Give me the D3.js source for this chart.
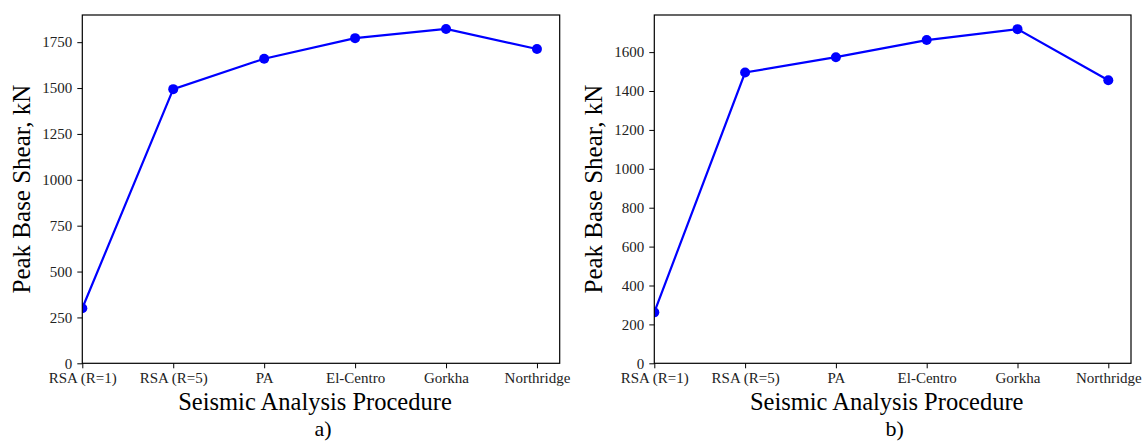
<!DOCTYPE html>
<html>
<head>
<meta charset="utf-8">
<script src="https://cdn.jsdelivr.net/npm/d3@7"></script>
<style>
  body { margin: 0; background: #fff; }
  svg text { font-family: "Liberation Serif", "DejaVu Serif", serif !important; }
</style>
</head>
<body>
<div class="chart"></div>
<script>
const categories = ["RSA (R=1)", "RSA (R=5)", "PA", "El-Centro", "Gorkha", "Northridge"]
const shearA = [300, 1494, 1660, 1772, 1822, 1713]
const shearB = [262, 1495, 1574, 1662, 1718, 1455]
const ticksA = [0, 250, 500, 750, 1000, 1250, 1500, 1750]
const ticksB = [0, 200, 400, 600, 800, 1000, 1200, 1400, 1600]

let width = 1142, height = 442
let svg = d3.select(".chart")
  .append("svg")
  .attr("width", width)
  .attr("height", height)

// one panel per sub-figure
function panel(left, right, values, ticks, caption, id) {
  let top = 15, bottom = 363.3
  let lo = d3.min(values), hi = d3.max(values)
  let x = d3.scaleLinear().domain([0, categories.length - 1 + 0.25]).range([left, right])
  let y = d3.scaleLinear().domain([0, hi + 0.05 * (hi - lo)]).range([bottom, top])

  let g = svg.append("g")

  g.append("clipPath").attr("id", id)
    .append("rect")
    .attr("x", left).attr("y", top)
    .attr("width", right - left).attr("height", bottom - top)

  let line = d3.line()
    .x((d, i) => x(i))
    .y((d) => y(d))

  let plot = g.append("g").attr("clip-path", `url(#${id})`)
  plot.append("path")
    .datum(values)
    .attr("d", line)
    .attr("fill", "none")
    .attr("stroke", "#0000ff")
    .attr("stroke-width", 2.2)
  plot.selectAll("circle")
    .data(values)
    .enter()
    .append("circle")
    .attr("cx", (d, i) => x(i))
    .attr("cy", (d) => y(d))
    .attr("r", 5)
    .attr("fill", "#0000ff")

  // axes
  let xAxis = d3.axisBottom(x)
    .tickValues(d3.range(categories.length))
    .tickFormat((i) => categories[i])
    .tickSizeInner(5).tickSizeOuter(0).tickPadding(4)
  let gx = g.append("g")
    .attr("transform", `translate(0,${bottom})`)
    .call(xAxis)
  let yAxis = d3.axisLeft(y)
    .tickValues(ticks)
    .tickFormat(d3.format("d"))
    .tickSizeInner(5).tickSizeOuter(0).tickPadding(5)
  let gy = g.append("g")
    .attr("transform", `translate(${left},0)`)
    .call(yAxis)
  ;[gx, gy].forEach((a) => {
    a.attr("font-family", null).attr("font-size", null)
    a.select(".domain").remove()
    a.selectAll("line").attr("stroke", "#000").attr("stroke-width", 1)
    a.selectAll("text")
      .style("font-size", "15px")
      .attr("fill", "#222")
  })

  // frame
  g.append("rect")
    .attr("x", left).attr("y", top)
    .attr("width", right - left).attr("height", bottom - top)
    .attr("fill", "none")
    .attr("stroke", "#000")
    .attr("stroke-width", 1.2)

  let mid = (left + right) / 2
  g.append("text")
    .attr("x", mid - 6).attr("y", 410)
    .attr("text-anchor", "middle")
    .style("font-size", "24.5px")
    .text("Seismic Analysis Procedure")
  g.append("text")
    .attr("x", mid + 2).attr("y", 436)
    .attr("text-anchor", "middle")
    .style("font-size", "22px")
    .text(caption)
  g.append("text")
    .attr("transform", `translate(${left - 52},${(top + bottom) / 2}) rotate(-90)`)
    .attr("text-anchor", "middle")
    .style("font-size", "25px")
    .text("Peak Base Shear, kN")
}

panel(82.3, 559.7, shearA, ticksA, "a)", "clipA")
panel(654.3, 1131, shearB, ticksB, "b)", "clipB")
</script>
</body>
</html>
